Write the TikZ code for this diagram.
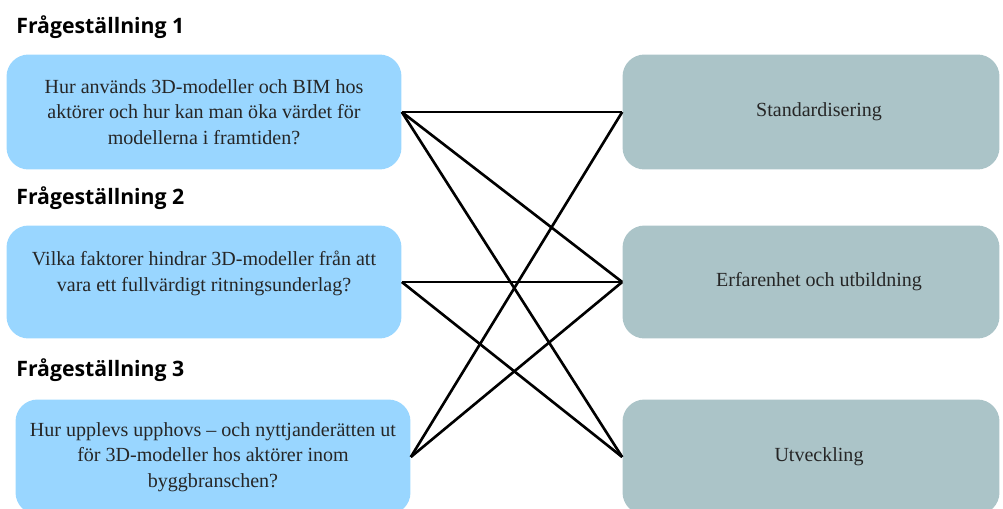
\documentclass[tikz,border=0pt]{standalone}
\usepackage{fontspec}
\setmainfont{Liberation Serif}
\newfontfamily\headfont{Open Sans}
\usepackage{xcolor}
\usetikzlibrary{positioning}
\definecolor{qblue}{HTML}{99D6FF}
\definecolor{tgray}{HTML}{ABC4C8}
\definecolor{txtgray}{HTML}{262626}

\begin{document}
\begin{tikzpicture}[x=0.02cm,y=-0.02cm,
  qbox/.style={fill=qblue,rounded corners=0.44cm,minimum width=7.9cm,minimum height=2.3cm,align=center,text=txtgray,font=\fontsize{11.4}{14.6}\selectfont},
  tbox/.style={qbox,fill=tgray,minimum width=7.54cm},
  rubrik/.style={anchor=base west,inner sep=0pt,font=\headfont\bfseries\fontsize{12.1}{14}\selectfont},
  link/.style={line width=1.5pt}]
\useasboundingbox (0,0) rectangle (1003,508);
\begin{scope}
\clip (0,0) rectangle (1003,508);
\node[rubrik] (h1) at (16,33) {Frågeställning 1};
\node[rubrik] (h2) at (16,204) {Frågeställning 2};
\node[rubrik] (h3) at (16,376) {Frågeställning 3};

\node[qbox] (q1) at (204,112) {Hur används 3D-modeller och BIM hos\\aktörer och hur kan man öka värdet för\\modellerna i framtiden?};
\node[qbox,minimum height=2.26cm,text depth=12pt] (q2) at (204,282) {Vilka faktorer hindrar 3D-modeller från att\\vara ett fullvärdigt ritningsunderlag?};
\node[qbox] (q3) at (213,457) {Hur upplevs upphovs -- och nyttjanderätten ut\\för 3D-modeller hos aktörer inom\\byggbranschen?};

\node[tbox] (t1) at (811,112) {\hspace*{0.32cm}Standardisering};
\node[tbox,minimum height=2.26cm] (t2) at (811,282) {\hspace*{0.32cm}Erfarenhet och utbildning};
\node[tbox] (t3) at (811,457) {\hspace*{0.32cm}Utveckling};
\end{scope}

\draw[link] (q1.east) -- (t1.west);
\draw[link] (q1.east) -- (t2.west);
\draw[link] (q1.east) -- (t3.west);
\draw[link] (q2.east) -- (t2.west);
\draw[link] (q2.east) -- (t3.west);
\draw[link] (q3.east) -- (t1.west);
\draw[link] (q3.east) -- (t2.west);
\end{tikzpicture}
\end{document}
